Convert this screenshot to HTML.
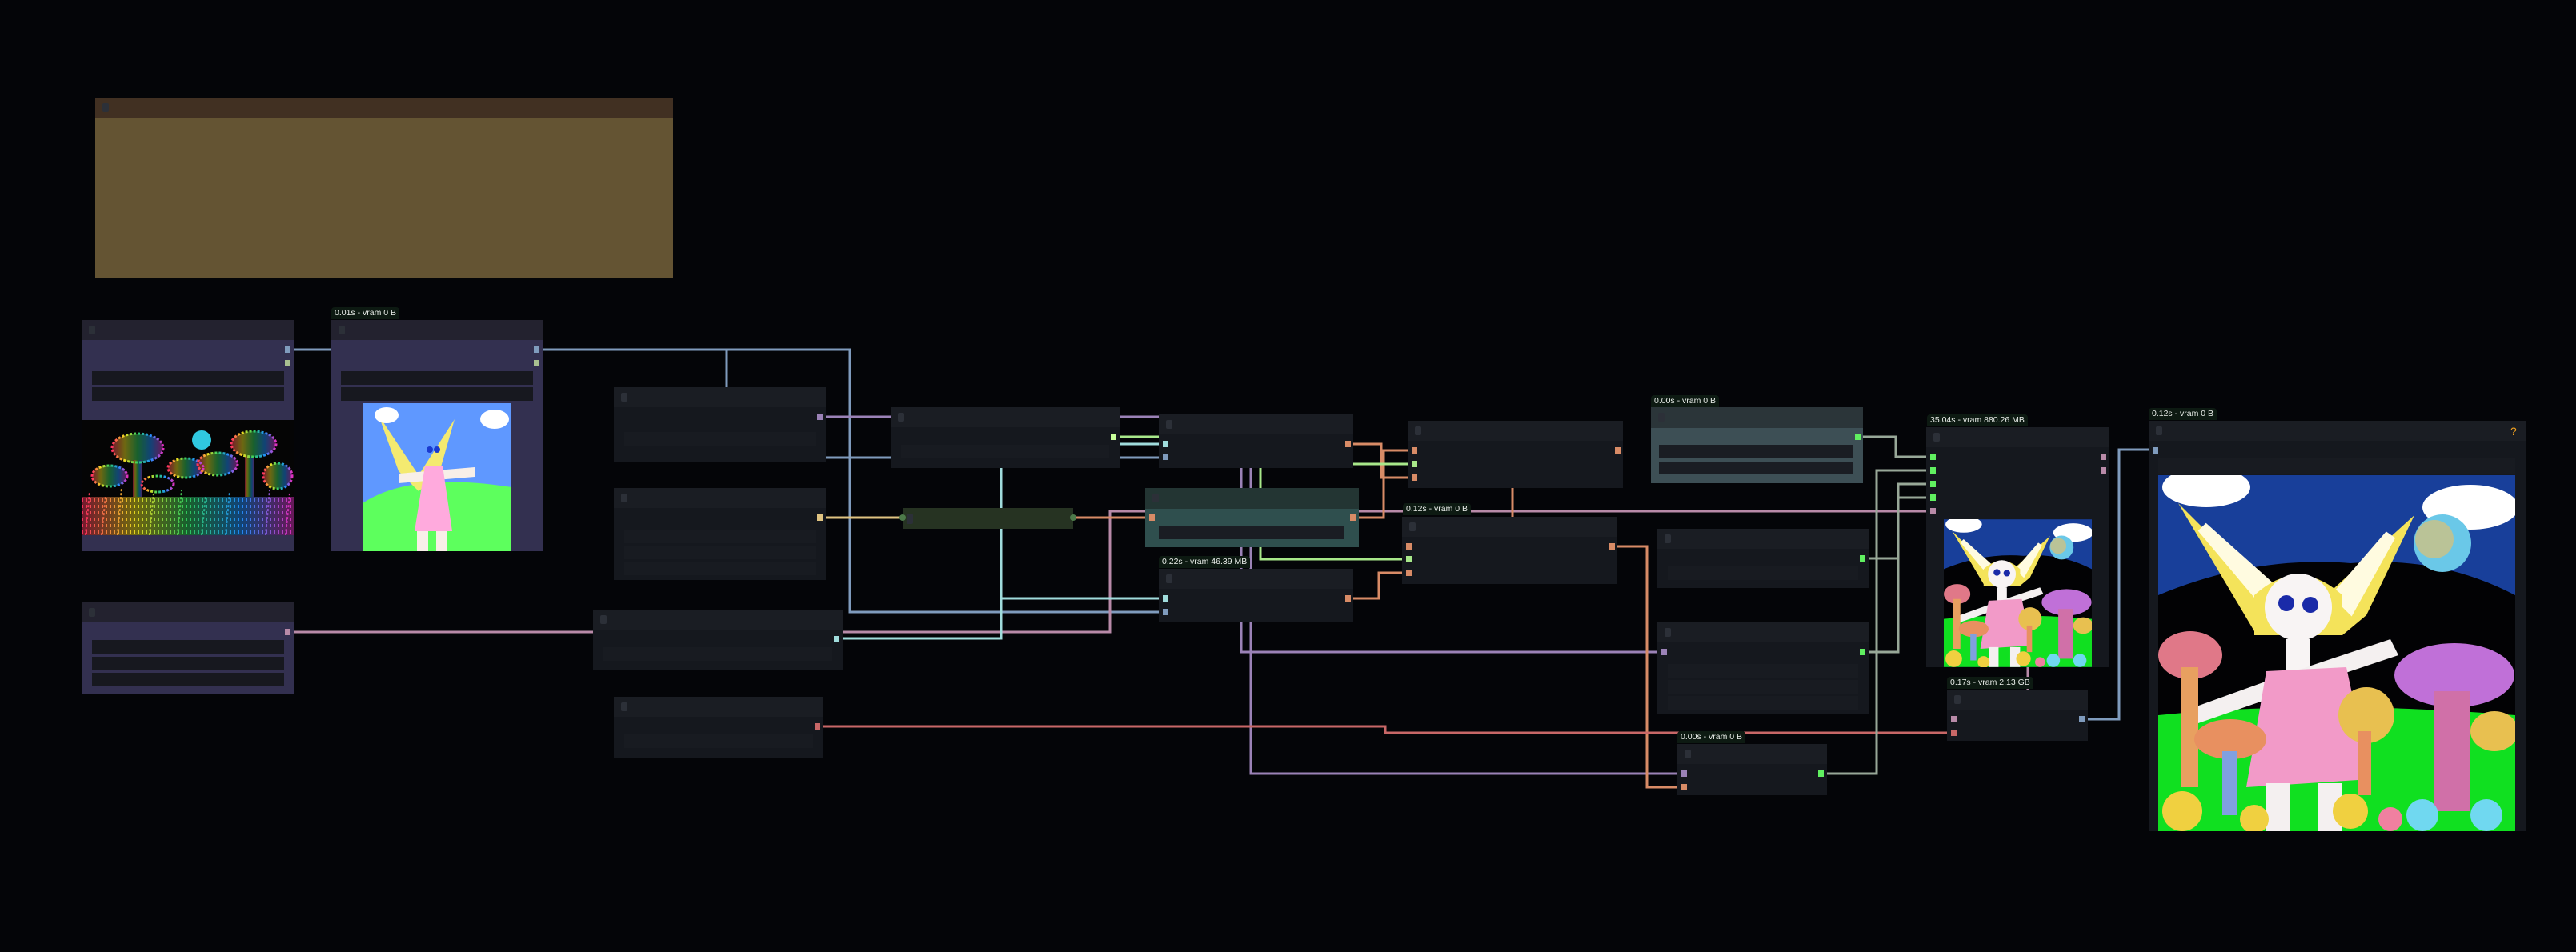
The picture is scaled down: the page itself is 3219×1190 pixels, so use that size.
<!DOCTYPE html>
<html><head><meta charset="utf-8"><style>
html,body{margin:0;padding:0;background:#040508;width:3219px;height:1190px;overflow:hidden;font-family:"Liberation Sans",sans-serif}
.n{position:absolute;background:#15181e}
.n .h{position:absolute;left:0;top:0;right:0;height:25px;background:#1a1d23}
.n .h:before{content:"";position:absolute;left:9px;top:7px;width:8px;height:11px;background:#2c3038;border-radius:2px}
.p{background:#333050}.p .h{background:#23222f}
.w{position:absolute;background:#17181f}
.fw{position:absolute;background:#181b21}
.s{position:absolute;width:7px;height:8px}
.b{position:absolute;height:15px;background:#0d1a12;color:#e8ece8;font-size:10.5px;line-height:15px;padding:0 4px;border-radius:4px 4px 0 0;white-space:nowrap}
svg{position:absolute;left:0;top:0}
</style></head><body>
<svg width="3219" height="1190" fill="none" stroke-width="3">
<g stroke="#7f9bbd">
<polyline points="367,437 414,437"/>
<polyline points="678,437 1062,437 1062,765 1448,765"/>
<polyline points="908,437 908,484"/>
<polyline points="1032,572 1448,572"/>
<polyline points="2609,899 2648,899 2648,562 2693,562"/>
</g>
<g stroke="#9b82b7">
<polyline points="1032,521 1448,521"/>
<polyline points="1551,585 1551,815 2078,815"/>
<polyline points="1563,585 1563,967 2096,967"/>
</g>
<g stroke="#b88aa8">
<polyline points="367,790 741,790"/>
<polyline points="1053,790 1387,790 1387,639 2407,639"/>
<polyline points="2534,834 2534,862"/>
</g>
<g stroke="#a0dcdc">
<polyline points="1045,798 1251,798 1251,585"/>
<polyline points="1251,661 1251,748 1448,748"/>
<polyline points="1399,555 1448,555"/>
<polyline points="1251,585 1251,635"/>
</g>
<polyline stroke="#e0c482" points="1032,647 1128,647"/>
<g stroke="#d88b66">
<polyline points="1341,647 1431,647"/>
<polyline points="1698,647 1729,647 1729,563 1759,563"/>
<polyline points="1691,555 1726,555 1726,597 1759,597"/>
<polyline points="1691,748 1723,748 1723,716 1752,716"/>
<polyline points="1890,610 1890,646"/>
<polyline points="2021,683 2058,683 2058,984 2096,984"/>
</g>
<g stroke="#a8e88a">
<polyline points="1399,546 1448,546"/>
<polyline points="1691,580 1759,580"/>
<polyline points="1575,585 1575,699 1752,699"/>
</g>
<polyline stroke="#c86767" points="1029,908 1731,908 1731,916 2433,916"/>
<g stroke="#98a898">
<polyline points="2328,546 2369,546 2369,571 2407,571"/>
<polyline points="2283,967 2345,967 2345,588 2407,588"/>
<polyline points="2335,698 2372,698 2372,605 2407,605"/>
<polyline points="2335,815 2372,815 2372,622 2407,622"/>
</g>
<defs>
<symbol id="girl" viewBox="0 0 446 445">
<rect width="446" height="445" fill="#183f9a"/>
<path d="M0 150 Q120 100 240 110 Q350 100 446 150 L446 445 L0 445Z" fill="#020204"/>
<path d="M0 300 Q200 280 446 300 L446 445 L0 445Z" fill="#10e020"/>
<ellipse cx="60" cy="15" rx="55" ry="25" fill="#fff"/><ellipse cx="390" cy="40" rx="60" ry="28" fill="#fff"/>
<circle cx="355" cy="85" r="36" fill="#6ac8e8"/><circle cx="345" cy="80" r="24" fill="#f0c060" opacity=".6"/>
<path d="M25 35 L140 150 L175 175 L210 150 L320 50 L260 175 L230 200 L120 195Z" fill="#f4e35a"/>
<path d="M55 65 L135 160 L150 150Z M290 75 L240 165 L225 150Z" fill="#fffbe0" stroke="#fffbe0" stroke-width="14"/>
<path d="M120 150 Q175 100 230 150 L230 200 L120 200Z" fill="#f4e35a"/>
<circle cx="175" cy="165" r="42" fill="#f8f4f4"/>
<circle cx="160" cy="160" r="10" fill="#1a2aa8"/><circle cx="190" cy="162" r="10" fill="#1a2aa8"/>
<rect x="160" y="205" width="30" height="40" fill="#f8f4f4"/>
<path d="M45 290 L170 245 L290 205 L300 225 L180 265 L50 310Z" fill="#f4f0f0"/>
<path d="M135 245 L235 240 L265 380 L110 390Z" fill="#f29ac8"/>
<rect x="135" y="385" width="30" height="60" fill="#f4f0f0"/><rect x="200" y="385" width="30" height="60" fill="#f4f0f0"/>
<ellipse cx="40" cy="225" rx="40" ry="30" fill="#e07888"/><rect x="28" y="240" width="22" height="150" fill="#e8a060"/>
<ellipse cx="370" cy="250" rx="75" ry="40" fill="#c070d8"/><rect x="345" y="270" width="45" height="150" fill="#d070a8"/>
<ellipse cx="260" cy="300" rx="35" ry="35" fill="#e8c050"/><rect x="250" y="320" width="16" height="80" fill="#e89060"/>
<ellipse cx="90" cy="330" rx="45" ry="25" fill="#e89060"/><rect x="80" y="345" width="18" height="80" fill="#80a0e0"/>
<ellipse cx="420" cy="320" rx="30" ry="25" fill="#e8c050"/>
<g fill="#f0d040"><circle cx="30" cy="420" r="25"/><circle cx="240" cy="420" r="22"/><circle cx="120" cy="430" r="18"/></g>
<g fill="#70d8f0"><circle cx="330" cy="425" r="20"/><circle cx="410" cy="425" r="20"/></g>
<circle cx="290" cy="430" r="15" fill="#f080a0"/>
</symbol>
</defs>
</svg>

<!-- note -->
<div class="n" style="left:119px;top:122px;width:722px;height:225px;background:#645433"><div class="h" style="height:26px;background:#413022"></div></div>

<!-- A -->
<div class="n p" style="left:102px;top:400px;width:265px;height:289px"><div class="h"></div>
<div class="w" style="left:13px;top:64px;width:240px;height:17px"></div><div class="w" style="left:13px;top:84px;width:240px;height:17px"></div>
<svg style="left:0;top:125px" width="265" height="144" viewBox="0 0 265 144">
<rect width="265" height="144" fill="#050505"/>
<defs><linearGradient id="rb" x1="0" y1="0" x2="1" y2="0"><stop offset="0" stop-color="#ff3060"/><stop offset=".25" stop-color="#f0e020"/><stop offset=".5" stop-color="#30d060"/><stop offset=".75" stop-color="#2090ff"/><stop offset="1" stop-color="#e030c0"/></linearGradient></defs>
<g fill="url(#rb)" opacity=".45">
<ellipse cx="70" cy="35" rx="32" ry="18"/><rect x="64" y="50" width="12" height="60"/>
<ellipse cx="215" cy="30" rx="28" ry="16"/><rect x="204" y="45" width="12" height="60"/>
<ellipse cx="130" cy="60" rx="22" ry="12"/><ellipse cx="35" cy="70" rx="22" ry="13"/>
<ellipse cx="170" cy="55" rx="25" ry="14"/><ellipse cx="245" cy="70" rx="18" ry="16"/>
<rect x="0" y="96" width="265" height="48"/>
</g>
<g stroke="url(#rb)" stroke-width="3" stroke-dasharray="3 2" fill="none">
<ellipse cx="70" cy="35" rx="32" ry="18"/><line x1="70" y1="50" x2="70" y2="110"/>
<ellipse cx="215" cy="30" rx="28" ry="16"/><line x1="210" y1="45" x2="210" y2="110"/>
<ellipse cx="130" cy="60" rx="22" ry="12"/><ellipse cx="35" cy="70" rx="22" ry="13"/>
<ellipse cx="170" cy="55" rx="25" ry="14"/><ellipse cx="245" cy="70" rx="18" ry="16"/>
<ellipse cx="95" cy="80" rx="20" ry="10"/>
</g>
<g stroke="url(#rb)" stroke-width="2" opacity=".9">
<path d="M0 100 L265 100 M0 108 L265 108 M0 116 L265 116 M0 124 L265 124 M0 132 L265 132 M0 140 L265 140" stroke-width="4" stroke-dasharray="2 3"/>
<path d="M5 144 L10 90 M25 144 L30 95 M45 144 L50 85 M85 144 L90 92 M120 144 L125 88 M150 144 L155 95 M180 144 L185 90 M230 144 L235 88 M255 144 L260 92" stroke-dasharray="3 2"/>
</g>
<circle cx="150" cy="25" r="12" fill="#30c8e0"/>
</svg></div>
<div class="s" style="left:356px;top:433px;background:#7f9bbd"></div><div class="s" style="left:356px;top:450px;background:#a8c090"></div>

<!-- B -->
<div class="b" style="left:414px;top:384px">0.01s - vram 0 B</div>
<div class="n p" style="left:414px;top:400px;width:264px;height:289px"><div class="h"></div>
<div class="w" style="left:12px;top:64px;width:240px;height:17px"></div><div class="w" style="left:12px;top:84px;width:240px;height:17px"></div>
<svg style="left:39px;top:104px" width="186" height="185" viewBox="0 0 186 185">
<rect width="186" height="185" fill="#5f98ff"/>
<path d="M0 125 Q60 85 186 105 L186 185 L0 185Z" fill="#5dff5d"/>
<path d="M20 15 L70 90 L115 20 L95 90 L70 110 L45 85Z" fill="#f4ea70"/>
<ellipse cx="30" cy="15" rx="15" ry="10" fill="#fff"/><ellipse cx="165" cy="20" rx="18" ry="12" fill="#fff"/>
<circle cx="84" cy="58" r="4" fill="#1a3ad0"/><circle cx="93" cy="58" r="4" fill="#1a3ad0"/>
<path d="M45 88 L140 80 L140 92 L45 100Z" fill="#f8efe8"/>
<path d="M78 78 L100 78 L112 160 L65 160Z" fill="#ffaadd"/>
<rect x="68" y="160" width="14" height="25" fill="#f8efe8"/><rect x="92" y="160" width="14" height="25" fill="#f8efe8"/>
</svg></div>
<div class="s" style="left:667px;top:433px;background:#7f9bbd"></div><div class="s" style="left:667px;top:450px;background:#a8c090"></div>

<!-- C -->
<div class="n" style="left:767px;top:484px;width:265px;height:94px"><div class="h"></div>
<div class="fw" style="left:13px;top:56px;width:240px;height:17px"></div></div>
<div class="s" style="left:1021px;top:517px;background:#9b82b7"></div>
<!-- D -->
<div class="n" style="left:767px;top:610px;width:265px;height:115px"><div class="h"></div>
<div class="fw" style="left:13px;top:52px;width:240px;height:17px"></div><div class="fw" style="left:13px;top:72px;width:240px;height:17px"></div><div class="fw" style="left:13px;top:92px;width:240px;height:17px"></div></div>
<div class="s" style="left:1021px;top:643px;background:#e0c482"></div>
<!-- E -->
<div class="n p" style="left:102px;top:753px;width:265px;height:115px"><div class="h"></div>
<div class="w" style="left:13px;top:47px;width:240px;height:17px"></div><div class="w" style="left:13px;top:68px;width:240px;height:17px"></div><div class="w" style="left:13px;top:88px;width:240px;height:17px"></div></div>
<div class="s" style="left:356px;top:786px;background:#b88aa8"></div>
<!-- F -->
<div class="n" style="left:741px;top:762px;width:312px;height:75px"><div class="h"></div>
<div class="fw" style="left:13px;top:47px;width:286px;height:17px"></div></div>
<div class="s" style="left:1042px;top:795px;background:#a0dcdc"></div>
<!-- G -->
<div class="n" style="left:767px;top:871px;width:262px;height:76px"><div class="h"></div>
<div class="fw" style="left:13px;top:47px;width:236px;height:17px"></div></div>
<div class="s" style="left:1018px;top:904px;background:#c86767"></div>
<!-- T -->
<div class="n" style="left:1113px;top:509px;width:286px;height:76px"><div class="h"></div>
<div class="fw" style="left:13px;top:47px;width:260px;height:17px"></div></div>
<div class="s" style="left:1388px;top:542px;background:#c8ff9a"></div>
<!-- reroute -->
<div class="n" style="left:1128px;top:635px;width:213px;height:26px;background:#263322"></div>
<div style="position:absolute;left:1133px;top:642px;width:8px;height:13px;background:#2c3038;border-radius:2px"></div>
<div style="position:absolute;left:1124px;top:643px;width:8px;height:8px;border-radius:50%;background:#4d7a4a"></div>
<div style="position:absolute;left:1337px;top:643px;width:8px;height:8px;border-radius:50%;background:#4d7a4a"></div>
<!-- H -->
<div class="n" style="left:1448px;top:518px;width:243px;height:67px"><div class="h"></div></div>
<div class="s" style="left:1453px;top:551px;background:#a0dcdc"></div><div class="s" style="left:1453px;top:567px;background:#7f9bbd"></div><div class="s" style="left:1681px;top:551px;background:#d88b66"></div>
<!-- I -->
<div class="n" style="left:1431px;top:610px;width:267px;height:74px;background:#2f4f4e"><div class="h" style="height:26px;background:#233533"></div>
<div class="w" style="left:17px;top:47px;width:232px;height:17px;background:#1a1d23"></div></div>
<div class="s" style="left:1436px;top:643px;background:#d88b66"></div><div class="s" style="left:1687px;top:643px;background:#d88b66"></div>
<!-- J -->
<div class="b" style="left:1448px;top:695px">0.22s - vram 46.39 MB</div>
<div class="n" style="left:1448px;top:711px;width:243px;height:67px"><div class="h"></div></div>
<div class="s" style="left:1453px;top:744px;background:#a0dcdc"></div><div class="s" style="left:1453px;top:761px;background:#7f9bbd"></div><div class="s" style="left:1681px;top:744px;background:#d88b66"></div>
<!-- K -->
<div class="n" style="left:1759px;top:526px;width:269px;height:84px"><div class="h"></div></div>
<div class="s" style="left:1764px;top:559px;background:#d88b66"></div><div class="s" style="left:1764px;top:576px;background:#a8e88a"></div><div class="s" style="left:1764px;top:593px;background:#d88b66"></div><div class="s" style="left:2018px;top:559px;background:#d88b66"></div>
<!-- L -->
<div class="b" style="left:1753px;top:629px">0.12s - vram 0 B</div>
<div class="n" style="left:1752px;top:646px;width:269px;height:84px"><div class="h"></div></div>
<div class="s" style="left:1757px;top:679px;background:#d88b66"></div><div class="s" style="left:1757px;top:695px;background:#a8e88a"></div><div class="s" style="left:1757px;top:712px;background:#d88b66"></div><div class="s" style="left:2011px;top:679px;background:#d88b66"></div>
<!-- M -->
<div class="b" style="left:2063px;top:494px">0.00s - vram 0 B</div>
<div class="n" style="left:2063px;top:509px;width:265px;height:95px;background:#3d4f55"><div class="h" style="height:26px;background:#2b3539"></div>
<div class="w" style="left:10px;top:47px;width:243px;height:17px;background:#1a1d23"></div><div class="w" style="left:10px;top:69px;width:243px;height:15px;background:#1a1d23"></div></div>
<div class="s" style="left:2318px;top:542px;background:#60f060"></div>
<!-- N -->
<div class="n" style="left:2071px;top:661px;width:264px;height:74px"><div class="h"></div>
<div class="fw" style="left:13px;top:47px;width:238px;height:17px"></div></div>
<div class="s" style="left:2324px;top:694px;background:#60f060"></div>
<!-- O -->
<div class="n" style="left:2071px;top:778px;width:264px;height:115px"><div class="h"></div>
<div class="fw" style="left:13px;top:52px;width:238px;height:17px"></div><div class="fw" style="left:13px;top:72px;width:238px;height:17px"></div><div class="fw" style="left:13px;top:92px;width:238px;height:17px"></div></div>
<div class="s" style="left:2076px;top:811px;background:#9b82b7"></div><div class="s" style="left:2324px;top:811px;background:#60f060"></div>
<!-- P -->
<div class="b" style="left:2096px;top:914px">0.00s - vram 0 B</div>
<div class="n" style="left:2096px;top:930px;width:187px;height:64px"><div class="h"></div></div>
<div class="s" style="left:2101px;top:963px;background:#9b82b7"></div><div class="s" style="left:2101px;top:980px;background:#d88b66"></div><div class="s" style="left:2272px;top:963px;background:#60f060"></div>
<!-- Q -->
<div class="b" style="left:2408px;top:518px">35.04s - vram 880.26 MB</div>
<div class="n" style="left:2407px;top:534px;width:229px;height:300px"><div class="h"></div>
<svg style="left:22px;top:115px" width="185" height="185"><use href="#girl" width="185" height="185"/></svg></div>
<div class="s" style="left:2412px;top:567px;background:#60f060"></div><div class="s" style="left:2412px;top:584px;background:#60f060"></div><div class="s" style="left:2412px;top:601px;background:#60f060"></div><div class="s" style="left:2412px;top:618px;background:#60f060"></div><div class="s" style="left:2412px;top:635px;background:#b88aa8"></div>
<div class="s" style="left:2625px;top:567px;background:#b88aa8"></div><div class="s" style="left:2625px;top:584px;background:#b88aa8"></div>
<!-- R -->
<div class="b" style="left:2433px;top:846px">0.17s - vram 2.13 GB</div>
<div class="n" style="left:2433px;top:862px;width:176px;height:64px"><div class="h"></div></div>
<div class="s" style="left:2438px;top:895px;background:#b88aa8"></div><div class="s" style="left:2438px;top:912px;background:#c86767"></div><div class="s" style="left:2598px;top:895px;background:#7f9bbd"></div>
<!-- S -->
<div class="b" style="left:2685px;top:510px">0.12s - vram 0 B</div>
<div class="n" style="left:2685px;top:526px;width:471px;height:513px"><div class="h"></div>
<div class="fw" style="left:12px;top:47px;width:446px;height:20px"></div>
<div style="position:absolute;left:452px;top:5px;color:#f0a020;font-size:14px">?</div>
<svg style="left:12px;top:68px" width="446" height="445"><use href="#girl" width="446" height="445"/></svg></div>
<div class="s" style="left:2690px;top:559px;background:#7f9bbd"></div>
</body></html>
